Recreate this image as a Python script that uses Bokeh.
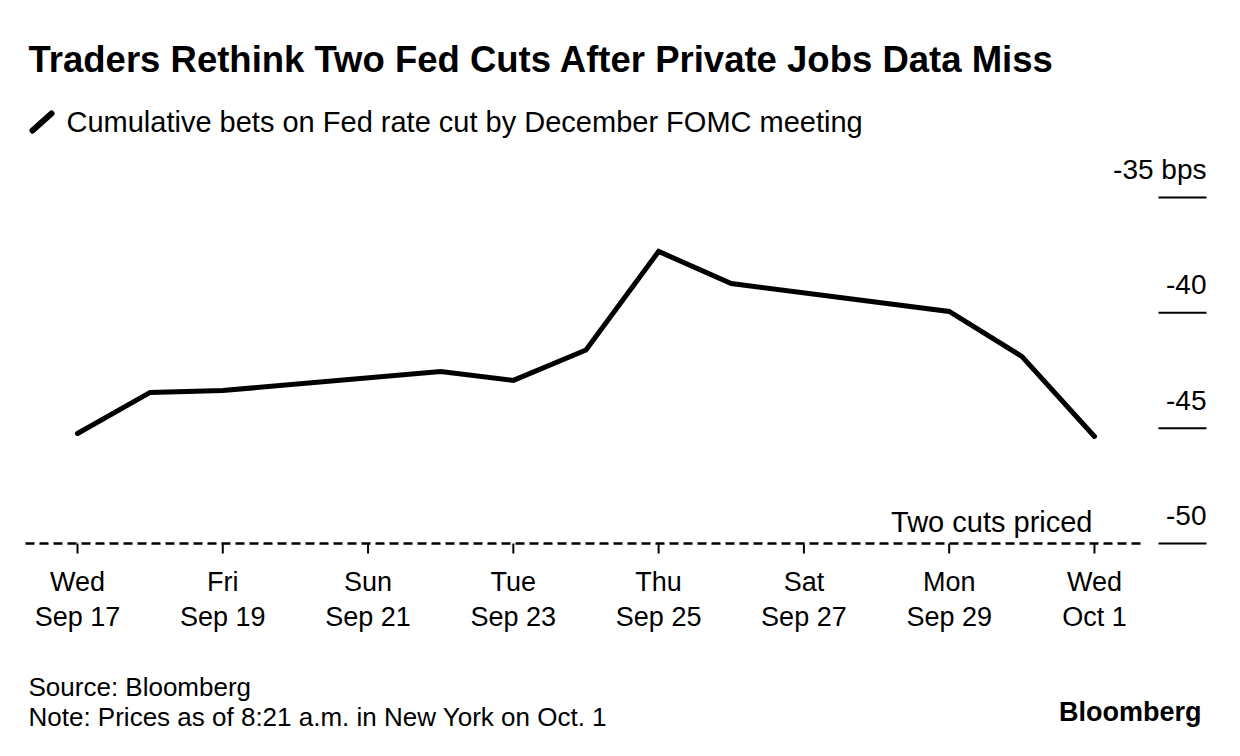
import pandas as pd
from bokeh.plotting import figure
from bokeh.models import Range1d, ColumnDataSource
from bokeh.core.properties import value
from bokeh.embed import file_html
from bokeh.resources import INLINE

# ---- data ----
dates = ["2025-09-17", "2025-09-18", "2025-09-19", "2025-09-22", "2025-09-23",
         "2025-09-24", "2025-09-25", "2025-09-26", "2025-09-29", "2025-09-30",
         "2025-10-01"]
bets = [-45.23, -43.45, -43.37, -42.54, -42.93, -41.61, -37.34, -38.73,
        -39.94, -41.89, -45.36]
tick_dates = ["2025-09-17", "2025-09-19", "2025-09-21", "2025-09-23",
              "2025-09-25", "2025-09-27", "2025-09-29", "2025-10-01"]
tick_day_names = ["Wed", "Fri", "Sun", "Tue", "Thu", "Sat", "Mon", "Wed"]
tick_date_names = ["Sep 17", "Sep 19", "Sep 21", "Sep 23", "Sep 25", "Sep 27",
                   "Sep 29", "Oct 1"]
y_ticks = [-35, -40, -45, -50]
y_tick_labels = ["-35 bps", "-40", "-45", "-50"]
two_cuts_level = -50

title = "Traders Rethink Two Fed Cuts After Private Jobs Data Miss"
subtitle = "Cumulative bets on Fed rate cut by December FOMC meeting"
source_txt = "Source: Bloomberg"
note_txt = "Note: Prices as of 8:21 a.m. in New York on Oct. 1"

# ---- layout helpers ----
W, H = 1224, 740
base = pd.Timestamp(dates[0])
def day(d):
    return (pd.Timestamp(d) - base) / pd.Timedelta(days=1)

PX_DAY = 72.64
PX_BP = 23.07
x0 = -77 / PX_DAY
x1 = x0 + W / PX_DAY
def X(px):  # page px -> data x
    return x0 + px / PX_DAY
def Y(py):  # page px -> data y
    return -50 - (py - 543) / PX_BP
y0 = Y(H)
y1 = Y(0)

def BL(py, size):  # baseline correction for svg text placement
    return Y(py - 0.4 * size)

FONT = "Liberation Sans"

p = figure(width=W, height=H, output_backend="svg", toolbar_location=None,
           x_range=Range1d(x0, x1), y_range=Range1d(y0, y1),
           min_border=0, min_border_left=0, min_border_right=0,
           min_border_top=0, min_border_bottom=0)
p.xaxis.visible = False
p.yaxis.visible = False
p.grid.visible = False
p.outline_line_color = None
p.background_fill_color = "white"
p.border_fill_color = "white"

# title / subtitle
p.text(x=[X(28)], y=[BL(74, 36.5)], text=[title], text_font=value(FONT),
       text_font_size="36.5px", text_font_style="bold", text_color="black",
       text_baseline="alphabetic", text_align="left")
p.segment(x0=[X(32)], y0=[Y(130)], x1=[X(51)], y1=[Y(113)], line_width=6,
          line_color="black", line_cap="round")
p.text(x=[X(66)], y=[BL(133, 29)], text=[subtitle], text_font=value(FONT),
       text_font_size="29px", text_color="black",
       text_baseline="alphabetic", text_align="left")

# two cuts priced dashed line
p.segment(x0=[X(25)], y0=[two_cuts_level], x1=[X(1142)], y1=[two_cuts_level],
          line_width=2.5, line_color="black", line_dash="9 5")
p.text(x=[X(1092)], y=[BL(533, 29)], text=["Two cuts priced"], text_font=value(FONT),
       text_font_size="29px", text_color="black",
       text_baseline="alphabetic", text_align="right")

# x ticks and labels
tx = [day(d) for d in tick_dates]
p.segment(x0=tx, y0=[two_cuts_level] * len(tx), x1=tx,
          y1=[Y(553)] * len(tx), line_width=2, line_color="black")
p.text(x=tx, y=[BL(592, 27)] * len(tx), text=tick_day_names, text_font=value(FONT),
       text_font_size="27px", text_color="black",
       text_baseline="alphabetic", text_align="center")
p.text(x=tx, y=[BL(627, 27)] * len(tx), text=tick_date_names, text_font=value(FONT),
       text_font_size="27px", text_color="black",
       text_baseline="alphabetic", text_align="center")

# y ticks and labels
p.segment(x0=[X(1158)] * len(y_ticks), y0=y_ticks, x1=[X(1206)] * len(y_ticks),
          y1=y_ticks, line_width=2, line_color="black")
p.text(x=[X(1206)] * len(y_ticks), y=y_ticks, text=y_tick_labels,
       y_offset=-28, text_font=value(FONT), text_font_size="28px",
       text_color="black", text_baseline="alphabetic", text_align="right")

# data line
src = ColumnDataSource(dict(x=[day(d) for d in dates], y=bets))
p.line("x", "y", source=src, line_width=5, line_color="black",
       line_join="miter", line_cap="round")

# footer
p.text(x=[X(28)], y=[BL(697, 26)], text=[source_txt], text_font=value(FONT),
       text_font_size="26px", text_color="black",
       text_baseline="alphabetic", text_align="left")
p.text(x=[X(28)], y=[BL(727, 26)], text=[note_txt], text_font=value(FONT),
       text_font_size="26px", text_color="black",
       text_baseline="alphabetic", text_align="left")
p.text(x=[X(1201)], y=[BL(722, 27)], text=["Bloomberg"], text_font=value(FONT),
       text_font_size="27px", text_font_style="bold", text_color="black",
       text_baseline="alphabetic", text_align="right")

open("out.html", "w").write(file_html(p, INLINE))
